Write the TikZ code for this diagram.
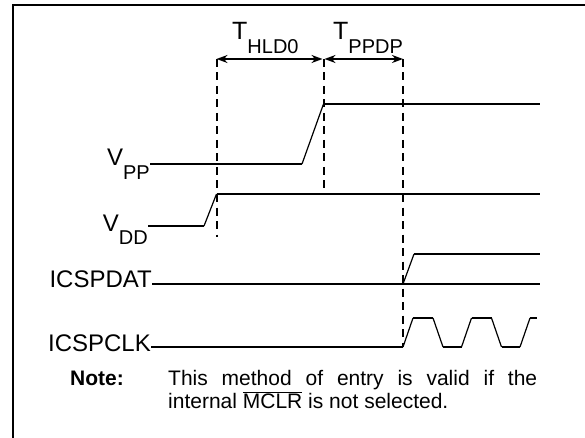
\documentclass[tikz,border=0pt]{standalone}
\usepackage{fontspec}
\setmainfont{Liberation Sans}
\usetikzlibrary{arrows.meta}

%% pedice abbassato, come nei fogli dati
\newcommand{\pedice}[1]{\raisebox{-0.55em}{\fontsize{20}{20}\selectfont #1}}

\begin{document}
\begin{tikzpicture}[x=1pt, y=-1pt,
		segnale/.style={line width=2pt, line cap=butt, line join=round, black},
		rampa/.style={line width=1.2pt, black},
		guida/.style={line width=2pt, dash pattern=on 8pt off 5.5pt, black},
		quota/.style={{Stealth[length=11pt,width=8pt]}-{Stealth[length=11pt,width=8pt]}, line width=2pt},
		etichetta/.style={font=\fontsize{24}{24}\selectfont, inner sep=0pt, anchor=base east},
		tempo/.style={font=\fontsize{25}{25}\selectfont, inner sep=0pt, anchor=base west},
		nota/.style={font=\fontsize{21}{23.5}\selectfont, inner sep=0pt, anchor=base west}]
	
	\useasboundingbox (0,0) rectangle (585,438);
	
	\def\xA{216.5}   %% Vdd alto
	\def\xB{323.5}   %% Vpp alto
	\def\xC{403}     %% partenza dati/clock
	\def\xE{540}     %% fine tracce
	\def\yq{59}      %% livello delle quote
	\def\per{58.5}   %% periodo del clock
	
	%% --- cornice (aperta a destra e in basso) ---
	\draw[line width=2.5pt] (13,438) -- (13,5) -- (585,5);
	
	%% --- nomi dei segnali ---
	\node[etichetta] (vpp) at (150,166) {V\pedice{PP}};
	\node[etichetta] (vdd) at (148,231) {V\pedice{DD}};
	\node[etichetta] (dat) at (152,287) {ICSPDAT};
	\node[etichetta] (clk) at (151,351) {ICSPCLK};
	
	%% --- punti chiave ---
	\coordinate (qA) at (\xA,\yq);
	\coordinate (qB) at (\xB,\yq);
	\coordinate (qC) at (\xC,\yq);
	
	%% --- Vpp ---
	\draw[segnale] (vpp.east |- 0,164) -- (302,164);
	\draw[rampa] (302,164) -- (\xB,104);
	\draw[segnale] (\xB,104) -- (\xE,104);
	
	%% --- Vdd ---
	\draw[segnale] (vdd.east |- 0,226) -- (204,226);
	\draw[rampa] (204,226) -- (\xA,194);
	\draw[segnale] (\xA,194) -- (\xE,194);
	
	%% --- ICSPDAT: basso fino in fondo, poi ramo alto ---
	\draw[segnale] (dat.east |- 0,284) -- (\xE,284);
	\draw[rampa] (\xC,284) -- (414,254);
	\draw[segnale] (414,254) -- (\xE,254);
	
	%% --- ICSPCLK ---
	\draw[segnale] (clk.east |- 0,347) -- (\xC,347);
	\foreach \k in {0,1} {
		\pgfmathsetmacro{\xk}{\xC+\k*\per}
		\draw[rampa] (\xk,347) -- ++(10,-29);
		\draw[segnale] (\xk+10,318) -- ++(20,0);
		\draw[rampa] (\xk+30,318) -- ++(10,29);
		\draw[segnale] (\xk+40,347) -- ++(18.5,0);
	}
	\draw[rampa] (\xC+2*\per,347) -- ++(10,-29);
	\draw[segnale] (\xC+2*\per+10,318) -- (537,318);
	
	%% --- linee di riferimento tratteggiate ---
	\draw[guida] (qA) -- (\xA,237);
	\draw[guida] (qB) -- (\xB,194);
	\draw[guida] (qC) -- (\xC,347);
	
	%% --- quote dei tempi ---
	\draw[quota] (qA) -- ([xshift=-1pt]qB);
	\draw[quota] ([xshift=1pt]qB) -- (qC);
	\node[tempo] (thld) at (232,40) {T\pedice{HLD0}};
	\node[tempo] (tppdp) at (333,40) {T\pedice{PPDP}};
	
	%% --- nota ---
	\node[nota, font=\fontsize{21}{23.5}\selectfont\bfseries] (notatit) at (70,385) {Note:};
	\node[nota, text width=369pt, align=justify] (notatesto) at (168,385)
		{This method of entry is valid if the\linebreak internal $\overline{\mbox{MCLR}}$ is not selected.};
	
\end{tikzpicture}
\end{document}
